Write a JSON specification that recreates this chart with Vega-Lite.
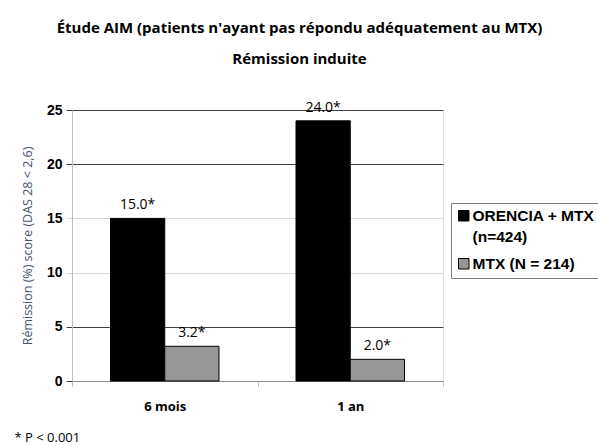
{
  "$schema": "https://vega.github.io/schema/vega-lite/v6.json",
  "autosize": "none",
  "width": 371,
  "height": 271,
  "padding": {"left": 72, "top": 110, "right": 155, "bottom": 64},
  "background": "white",
  "config": {"view": {"stroke": "#e0e0e0"}},
  "title": {
    "text": "Étude AIM (patients n'ayant pas répondu adéquatement au MTX)",
    "subtitle": "Rémission induite",
    "frame": "group",
    "font": "Open Sans",
    "fontSize": 15,
    "fontWeight": "bold",
    "color": "#000000",
    "subtitleFont": "Open Sans",
    "subtitleFontSize": 15,
    "subtitleFontWeight": "bold",
    "subtitleColor": "#000000",
    "subtitlePadding": 16,
    "anchor": "middle",
    "dx": 42,
    "offset": 34
  },
  "data": {
    "values": [
      {"periode": "6 mois", "groupe": "ORENCIA + MTX (n=424)", "valeur": 15.0, "etiquette": "15.0*"},
      {"periode": "6 mois", "groupe": "MTX (N = 214)", "valeur": 3.2, "etiquette": "3.2*"},
      {"periode": "1 an", "groupe": "ORENCIA + MTX (n=424)", "valeur": 24.0, "etiquette": "24.0*"},
      {"periode": "1 an", "groupe": "MTX (N = 214)", "valeur": 2.0, "etiquette": "2.0*"}
    ]
  },
  "encoding": {
    "x": {
      "field": "periode",
      "type": "nominal",
      "sort": ["6 mois", "1 an"],
      "scale": {"paddingInner": 0, "paddingOuter": 0},
      "axis": {
        "labelAngle": 0,
        "labelFont": "Open Sans",
        "labelFontWeight": "bold",
        "labelFontSize": 13,
        "labelColor": "#000000",
        "labelPadding": 14,
        "tickBand": "extent",
        "tickColor": "#bfbfbf",
        "tickSize": 5,
        "domainColor": "#8c8c8c",
        "title": "* P < 0.001",
        "titleFont": "Open Sans",
        "titleFontWeight": "normal",
        "titleFontSize": 13,
        "titleColor": "#000000",
        "titleAnchor": "start",
        "titleAlign": "left",
        "titleX": -58,
        "titleY": 50
      }
    },
    "xOffset": {
      "field": "groupe",
      "type": "nominal",
      "sort": ["ORENCIA + MTX (n=424)", "MTX (N = 214)"],
      "scale": {"paddingInner": 0, "paddingOuter": 0.71}
    },
    "y": {
      "field": "valeur",
      "type": "quantitative",
      "scale": {"domain": [0, 25], "nice": false}
    }
  },
  "layer": [
    {
      "mark": {"type": "bar", "stroke": "#000000", "strokeWidth": 1},
      "encoding": {
        "y": {
          "field": "valeur",
          "type": "quantitative",
          "scale": {"domain": [0, 25], "nice": false},
          "axis": {
            "values": [0, 5, 10, 15, 20, 25],
            "labelFont": "Liberation Sans",
            "labelFontWeight": "bold",
            "labelFontSize": 14,
            "labelColor": "#000000",
            "labelPadding": 4,
            "tickColor": {"condition": {"test": "datum.value == 10 || datum.value == 15", "value": "#d9d9d9"}, "value": "#404040"},
            "tickSize": 6,
            "domainColor": "#bfbfbf",
            "gridColor": {"condition": {"test": "datum.value == 10 || datum.value == 15", "value": "#d9d9d9"}, "value": "#404040"},
            "title": "Rémission (%) score (DAS 28 < 2,6)",
            "titleFont": "Open Sans",
            "titleFontWeight": "normal",
            "titleFontSize": 12.5,
            "titleColor": "#44546a",
            "titlePadding": 12
          }
        },
        "color": {
          "field": "groupe",
          "type": "nominal",
          "sort": ["ORENCIA + MTX (n=424)", "MTX (N = 214)"],
          "scale": {"range": ["#000000", "#969696"]},
          "legend": {
            "title": null,
            "orient": "none",
            "legendX": 379,
            "legendY": 93,
            "symbolType": "square",
            "symbolSize": 110,
            "symbolStrokeColor": "#000000",
            "symbolStrokeWidth": 1,
            "labelFont": "Liberation Sans",
            "labelFontWeight": "bold",
            "labelFontSize": 15.5,
            "labelColor": "#000000",
            "labelOffset": 1,
            "labelExpr": "datum.label == 'ORENCIA + MTX (n=424)' ? ['ORENCIA + MTX', '(n=424)'] : datum.label",
            "labelLimit": 300,
            "rowPadding": 10,
            "strokeColor": "#7f7f7f",
            "padding": 5,
            "fillColor": "white",
            "encode": {"labels": {"update": {"lineHeight": {"value": 21}}}}
          }
        }
      }
    },
    {
      "mark": {"type": "text", "dy": -13, "font": "Open Sans", "fontSize": 14, "color": "#000000"},
      "encoding": {
        "text": {"field": "etiquette"}
      }
    }
  ]
}
